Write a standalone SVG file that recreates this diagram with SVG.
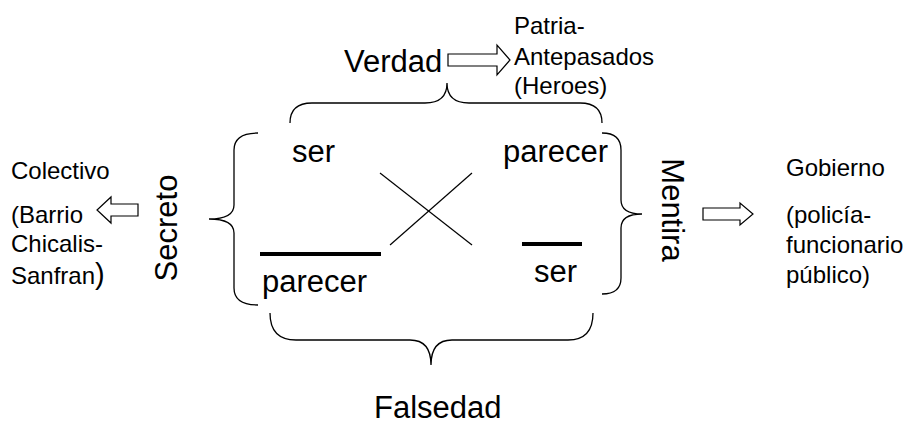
<svg xmlns="http://www.w3.org/2000/svg" width="909" height="425" viewBox="0 0 909 425">
<style>
  text { font-family: "Liberation Sans", Arial, sans-serif; fill: #000; }
  .big { font-size: 31px; }
  .small { font-size: 24px; }
  .brace { fill: none; stroke: #000; stroke-width: 1.3; }
  .xline { stroke: #000; stroke-width: 1.2; }
  .bar { stroke: #000; stroke-width: 4; }
  .harrow { fill: #fff; stroke: #000; stroke-width: 1.2; stroke-linejoin: miter; }
</style>
<rect width="909" height="425" fill="#fff"/>
<g id="connectors">
  <path class="brace" d="M258,133 Q234,133 234,150 L234,205 Q234,219 209,219 Q234,219 234,233 L234,288 Q234,305 258,305"/>
  <path class="brace" d="M290,123 Q290,103 312,103 L425,103 Q447,103 447,83 Q447,103 469,103 L580,103 Q602,103 602,123"/>
  <path class="brace" d="M602,133 Q621,133 621,150 L621,200 Q621,214 642,214 Q621,214 621,228 L621,278 Q621,294 602,294"/>
  <path class="brace" d="M270,313 Q270,340 296,340 L410,340 Q431,340 431,365 Q431,340 452,340 L568,340 Q593,340 593,313"/>
  <line class="xline" x1="380" y1="173" x2="472" y2="245"/>
  <line class="xline" x1="390" y1="245" x2="472" y2="173"/>
  <line class="bar" x1="260" y1="254" x2="381" y2="254"/>
  <line class="bar" x1="522" y1="244" x2="582" y2="244"/>
  <path class="harrow" d="M448,54 L497,54 L497,45 L510,60 L497,75 L497,66 L448,66 Z"/>
  <path class="harrow" d="M138,204 L111,204 L111,197 L97,210 L111,223 L111,216 L138,216 Z"/>
  <path class="harrow" d="M703,208 L740,208 L740,203 L753,214 L740,225 L740,220 L703,220 Z"/>
</g>
<g id="node-verdad"><text class="big" x="344" y="72">Verdad</text></g>
<g id="node-patria">
  <text class="small" x="514" y="34">Patria-</text>
  <text class="small" x="514" y="65">Antepasados</text>
  <text class="small" x="514" y="94">(Heroes)</text>
</g>
<g id="node-colectivo">
  <text class="small" x="11" y="179">Colectivo</text>
  <text class="small" x="11" y="223">(Barrio</text>
  <text class="small" x="11" y="252">Chicalis-</text>
  <text class="small" x="11" y="284">Sanfran<tspan font-size="29">)</tspan></text>
</g>
<g id="node-secreto"><text class="big" text-anchor="middle" transform="translate(177,228) rotate(-90)">Secreto</text></g>
<g id="node-mentira"><text class="big" text-anchor="middle" transform="translate(662,210) rotate(90)">Mentira</text></g>
<g id="node-gobierno">
  <text class="small" x="786" y="176">Gobierno</text>
  <text class="small" x="786" y="223">(policía-</text>
  <text class="small" x="786" y="253">funcionario</text>
  <text class="small" x="786" y="283">público)</text>
</g>
<g id="node-ser-top"><text class="big" x="292" y="162">ser</text></g>
<g id="node-parecer-top"><text class="big" x="503" y="162">parecer</text></g>
<g id="node-parecer-bottom"><text class="big" x="262" y="292">parecer</text></g>
<g id="node-ser-bottom"><text class="big" x="534" y="282">ser</text></g>
<g id="node-falsedad"><text class="big" x="374" y="418">Falsedad</text></g>
</svg>
